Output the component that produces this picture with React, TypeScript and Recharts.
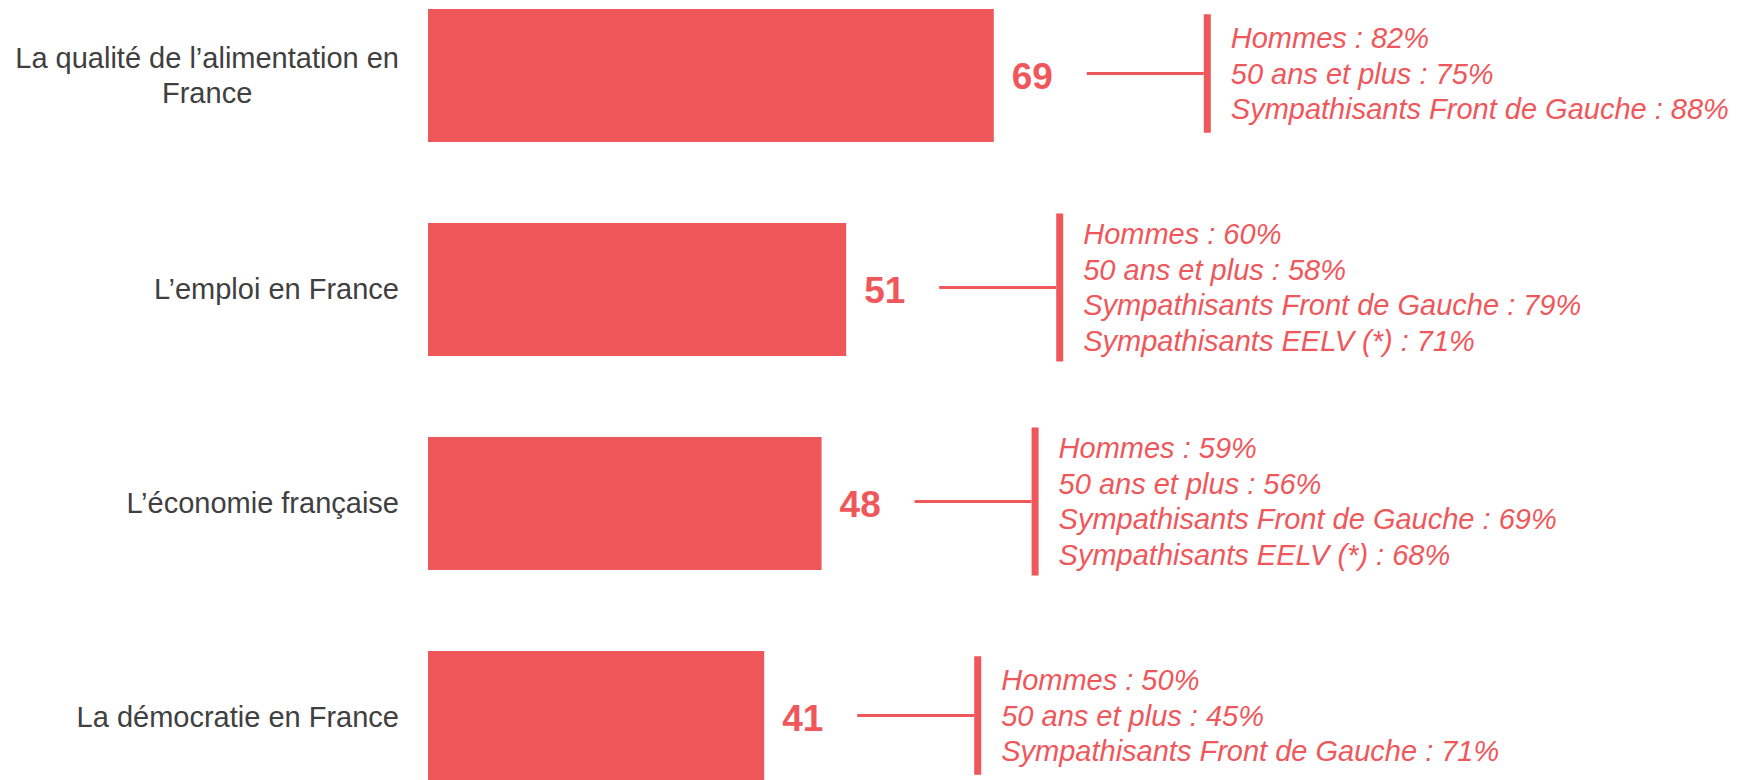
import React from 'react';
import { Bar, BarChart, LabelList, XAxis, YAxis } from 'recharts';

// données
const categories = [
    'La qualité de l’alimentation en France',
    'L’emploi en France',
    'L’économie française',
    'La démocratie en France'
];
const scores = [69, 51, 48, 41];
const hommes = [82, 60, 59, 50];
const plus50 = [75, 58, 56, 45];
const frontDeGauche = [88, 79, 69, 71];
const eelv: (number | null)[] = [null, 71, 68, null];

const RED = '#EF575B';
const GREY = '#404040';
const FONT = '"Liberation Sans", Arial, sans-serif';

const data = categories.map((category, i) => ({
    category,
    value: scores[i],
    notes: [
        `Hommes : ${hommes[i]}%`,
        `50 ans et plus : ${plus50[i]}%`,
        `Sympathisants Front de Gauche : ${frontDeGauche[i]}%`,
        ...(eelv[i] != null ? [`Sympathisants EELV (*) : ${eelv[i]}%`] : [])
    ]
}));

// mesure du texte pour couper les libellés trop longs
let ctx: CanvasRenderingContext2D | null = null;
const measure = (s: string) => {
    if (!ctx) {
        ctx = document.createElement('canvas').getContext('2d');
        if (ctx) ctx.font = `29px ${FONT}`;
    }
    return ctx ? ctx.measureText(s).width : s.length * 14;
};

const wrap = (label: string, maxWidth: number) => {
    const words = label.split(' ');
    const lines: string[] = [];
    let cur = '';
    words.forEach((w) => {
        const next = cur ? cur + ' ' + w : w;
        if (cur && measure(next) > maxWidth) {
            lines.push(cur);
            cur = w;
        } else {
            cur = next;
        }
    });
    if (cur) lines.push(cur);
    return lines;
};

const CategoryTick = ({ x, y, payload }: any) => {
    const lines = wrap(payload.value, 390);
    const multi = lines.length > 1;
    const maxW = Math.max(...lines.map(measure));
    const tx = multi ? x - maxW / 2 : x;
    return (
        <text fill={GREY} fontSize={29} fontFamily={FONT} textAnchor={multi ? 'middle' : 'end'}>
            {lines.map((l, i) => (
                <tspan key={i} x={tx} y={y + (i - (lines.length - 1) / 2) * 35} dy={10}>
                    {l}
                </tspan>
            ))}
        </text>
    );
};

// valeur, trait et détail des sous-populations à droite de chaque barre
const renderNote = (props: any) => {
    const { x, y, width, height, value, index } = props;
    const row = data[index] ?? data.find((d) => d.value === value);
    if (!row) return null;
    const end = x + width;
    const cy = y + height / 2;
    const lineY = cy - 2;
    const n = row.notes.length;
    const half = (n * 29.5 + 30) / 2;
    const lineStart = end + 93;
    const bracketX = lineStart + 117;
    return (
        <g>
            <text x={end + 18} y={cy} dy={13} fill={RED} fontSize={37} fontWeight="bold" fontFamily={FONT}>
                {value}
            </text>
            <line x1={lineStart} x2={bracketX} y1={lineY} y2={lineY} stroke={RED} strokeWidth={3} />
            <rect x={bracketX} y={lineY - half} width={7} height={half * 2} fill={RED} />
            {row.notes.map((t, i) => (
                <text
                    key={i}
                    x={bracketX + 27}
                    y={lineY + (i - (n - 1) / 2) * 35.5}
                    dy={10}
                    fill={RED}
                    fontSize={29}
                    fontStyle="italic"
                    fontFamily={FONT}
                >
                    {t}
                </text>
            ))}
        </g>
    );
};

export default function App() {
    return (
        <div
            style={{
                position: 'fixed',
                left: 0,
                top: 0,
                width: 1738,
                height: 780,
                overflow: 'hidden',
                background: '#fff'
            }}
        >
            <div style={{ position: 'absolute', left: 0, top: -32 }}>
                <BarChart
                    width={1738}
                    height={856}
                    data={data}
                    layout="vertical"
                    margin={{ top: 0, right: 490, bottom: 0, left: 0 }}
                    barSize={133}
                >
                    <XAxis type="number" domain={[0, 100]} hide />
                    <YAxis
                        type="category"
                        dataKey="category"
                        width={428}
                        axisLine={false}
                        tickLine={false}
                        tickSize={0}
                        tickMargin={29}
                        tick={<CategoryTick />}
                        interval={0}
                    />
                    <Bar dataKey="value" fill={RED} isAnimationActive={false}>
                        <LabelList dataKey="value" content={renderNote} />
                    </Bar>
                </BarChart>
            </div>
        </div>
    );
}
